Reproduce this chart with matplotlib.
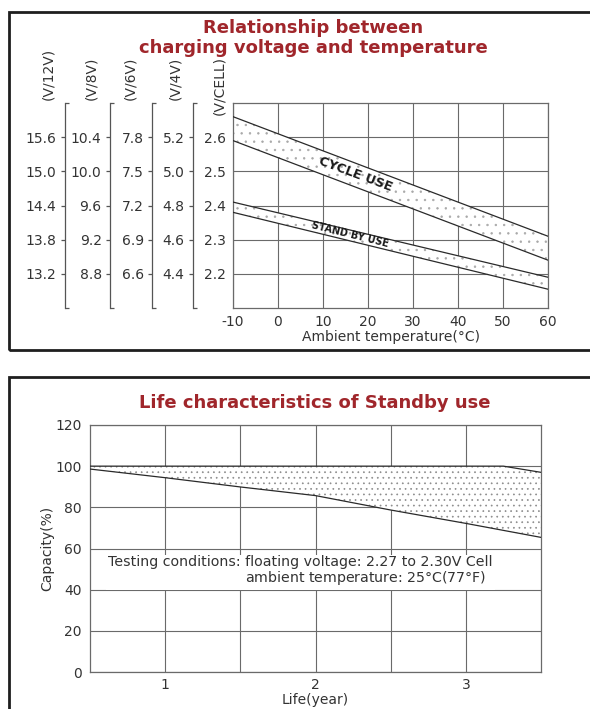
import numpy as np
import matplotlib
matplotlib.use("Agg")
import matplotlib.pyplot as plt
from matplotlib.patches import Rectangle

# ---------------- data ----------------
temperature = [-10, 60]
cycle_upper = [2.66, 2.31]
cycle_lower = [2.59, 2.24]
standby_upper = [2.41, 2.19]
standby_lower = [2.38, 2.155]

cell_ticks = [2.2, 2.3, 2.4, 2.5, 2.6]
labels_12v = ["13.2", "13.8", "14.4", "15.0", "15.6"]
labels_8v = ["8.8", "9.2", "9.6", "10.0", "10.4"]
labels_6v = ["6.6", "6.9", "7.2", "7.5", "7.8"]
labels_4v = ["4.4", "4.6", "4.8", "5.0", "5.2"]
labels_cell = ["2.2", "2.3", "2.4", "2.5", "2.6"]
scale_headers = ["(V/12V)", "(V/8V)", "(V/6V)", "(V/4V)", "(V/CELL)"]
temp_ticks = [-10, 0, 10, 20, 30, 40, 50, 60]

life_years_lower = [0.5, 1.0, 1.5, 2.0, 2.5, 3.0, 3.5]
capacity_lower = [98.6, 94.4, 89.9, 85.7, 78.7, 72.2, 65.4]
life_years_upper = [0.5, 3.25, 3.5]
capacity_upper = [100, 100, 97.0]
capacity_ticks = [0, 20, 40, 60, 80, 100, 120]
year_ticks = [1, 2, 3]
year_minor = [1.5, 2.5]

note_head = "Testing conditions: "
note_line1 = "floating voltage: 2.27 to 2.30V Cell"
note_line2 = "ambient temperature: 25°C(77°F)"

# ---------------- style ----------------
W, H = 590, 709
TXT = "#333333"
GRID = "#6a6a6a"
LINE = "#2a2a2a"
RED = "#a0262b"
plt.rcParams["font.family"] = ["DejaVu Sans"]
plt.rcParams["mathtext.fontset"] = "dejavusans"
plt.rcParams["hatch.linewidth"] = 0.5


def fx(px):
    return px / W


def fy(py):
    return 1 - py / H


fig = plt.figure(figsize=(W / 100, H / 100), dpi=100)
fig.patch.set_facecolor("white")
renderer = fig.canvas.get_renderer()

# frames
fig.add_artist(Rectangle((fx(9), fy(350)), 1.2, (350 - 12) / H, transform=fig.transFigure,
                         fill=False, lw=2.0, ec="#1e1e1e", clip_on=False))
fig.add_artist(Rectangle((fx(9), fy(800)), 1.2, (800 - 377) / H, transform=fig.transFigure,
                         fill=False, lw=2.0, ec="#1e1e1e", clip_on=False))

# ================= top chart =================
L, R, T, B = 233, 548, 103, 308
ax = fig.add_axes([fx(L), fy(B), (R - L) / W, (B - T) / H])
ax.set_xlim(-10, 60)
ax.set_ylim(2.1, 2.7)
ax.set_xticks(temp_ticks)
ax.set_xticklabels([str(t) for t in temp_ticks])
ax.set_yticks(cell_ticks)
ax.set_yticklabels(labels_cell)
ax.tick_params(length=0, labelsize=10, labelcolor=TXT, pad=5)
ax.tick_params(axis="y", pad=5)
ax.grid(True, color=GRID, lw=0.8)
for s in ax.spines.values():
    s.set_color(GRID)
    s.set_linewidth(0.9)
ax.set_xlabel("Ambient temperature(°C)", fontsize=10, color=TXT, labelpad=1)

for up, lo in [(cycle_upper, cycle_lower), (standby_upper, standby_lower)]:
    xs = temperature + temperature[::-1]
    ys = up + lo[::-1]
    ax.fill(xs, ys, facecolor="white", edgecolor="#a8a8a8", lw=0, hatch="..", zorder=2)
    ax.plot(temperature, up, color=LINE, lw=0.9, zorder=3)
    ax.plot(temperature, lo, color=LINE, lw=0.9, zorder=3)

ax.text(17.3, 2.492, "CYCLE USE", rotation=-20.5, ha="center", va="center",
        rotation_mode="anchor", fontsize=9.3, fontweight="bold", color="#1a1a1a", zorder=4)
ax.text(16, 2.316, "STAND BY USE", rotation=-14, ha="center", va="center",
        rotation_mode="anchor", fontsize=7, fontweight="bold", color="#1a1a1a", zorder=4)

# extra voltage scales (brackets)
for xpx, labs in [(65, labels_12v), (110, labels_8v), (152, labels_6v), (193, labels_4v)]:
    sa = fig.add_axes([fx(xpx), fy(B), 1e-5, (B - T) / H])
    sa.set_ylim(2.1, 2.7)
    sa.patch.set_visible(False)
    for k in ["top", "right", "bottom"]:
        sa.spines[k].set_visible(False)
    sa.spines["left"].set_color("#555555")
    sa.spines["left"].set_linewidth(0.9)
    sa.set_xticks([])
    sa.set_yticks(cell_ticks)
    sa.set_yticklabels(labs)
    sa.set_yticks([2.1, 2.7], minor=True)
    sa.tick_params(axis="y", which="major", direction="out", length=3, width=0.9,
                   color="#555555", labelsize=10, labelcolor=TXT, pad=3)
    sa.tick_params(axis="y", which="minor", direction="in", length=3, width=0.9,
                   color="#555555")

# scale headers
for xc, ybot, h in zip([48, 91, 130, 175, 219], [100, 100, 100, 100, 115], scale_headers):
    fig.text(fx(xc), fy(ybot), h, rotation=90, ha="center", va="bottom",
             fontsize=10, color=TXT)

fig.text(fx(313), fy(38), "Relationship between\ncharging voltage and temperature",
         ha="center", va="center", fontsize=13, fontweight="bold", color=RED,
         linespacing=1.12)

# ================= bottom chart =================
L2, R2, T2, B2 = 90, 541, 425, 672
bx = fig.add_axes([fx(L2), fy(B2), (R2 - L2) / W, (B2 - T2) / H])
bx.set_xlim(0.5, 3.5)
bx.set_ylim(0, 120)
bx.set_xticks(year_ticks)
bx.set_xticklabels([str(v) for v in year_ticks])
bx.set_xticks(year_minor, minor=True)
bx.set_yticks(capacity_ticks)
bx.set_yticklabels([str(v) for v in capacity_ticks])
bx.tick_params(which="both", length=0, labelsize=10, labelcolor=TXT)
bx.tick_params(axis="x", pad=4)
bx.tick_params(axis="y", pad=6)
bx.grid(True, which="both", color=GRID, lw=0.8)
for s in bx.spines.values():
    s.set_color(GRID)
    s.set_linewidth(0.9)
bx.set_xlabel("Life(year)", fontsize=10, color=TXT, labelpad=1)
bx.set_ylabel("Capacity(%)", fontsize=10, color=TXT, labelpad=1)

xs = life_years_upper + life_years_lower[::-1]
ys = capacity_upper + capacity_lower[::-1]
bx.fill(xs, ys, facecolor="white", edgecolor="#8c8c8c", lw=0, hatch="...", zorder=2)
bx.plot(life_years_lower, capacity_lower, color=LINE, lw=0.9, zorder=3)
bx.plot(life_years_upper, capacity_upper, color=LINE, lw=0.9, zorder=3)

# indent of the second note line so it starts under "floating"
NOTE_FS = 10.2
probe_a = fig.text(0, 0, note_head + note_line1, fontsize=NOTE_FS)
probe_b = fig.text(0, 0, note_line1, fontsize=NOTE_FS)
probe_m = fig.text(0, 0, "m", fontsize=NOTE_FS)
indent_px = (probe_a.get_window_extent(renderer).width
             - probe_b.get_window_extent(renderer).width)
m_px = probe_m.get_window_extent(renderer).width
for p in (probe_a, probe_b, probe_m):
    p.remove()
hs = indent_px / m_px

note = (note_head + note_line1 + "\n"
        + r"$\hspace{%.3f}$" % hs + note_line2)
bx.text(0.62, 49.0, note, ha="left", va="center", fontsize=NOTE_FS, color=TXT,
        zorder=5, linespacing=1.05, multialignment="left",
        bbox=dict(facecolor="white", edgecolor="none", pad=1.5))

fig.text(fx(315), fy(403), "Life characteristics of Standby use",
         ha="center", va="center", fontsize=13, fontweight="bold", color=RED)

fig.savefig("out.png", dpi=100, facecolor="white")
